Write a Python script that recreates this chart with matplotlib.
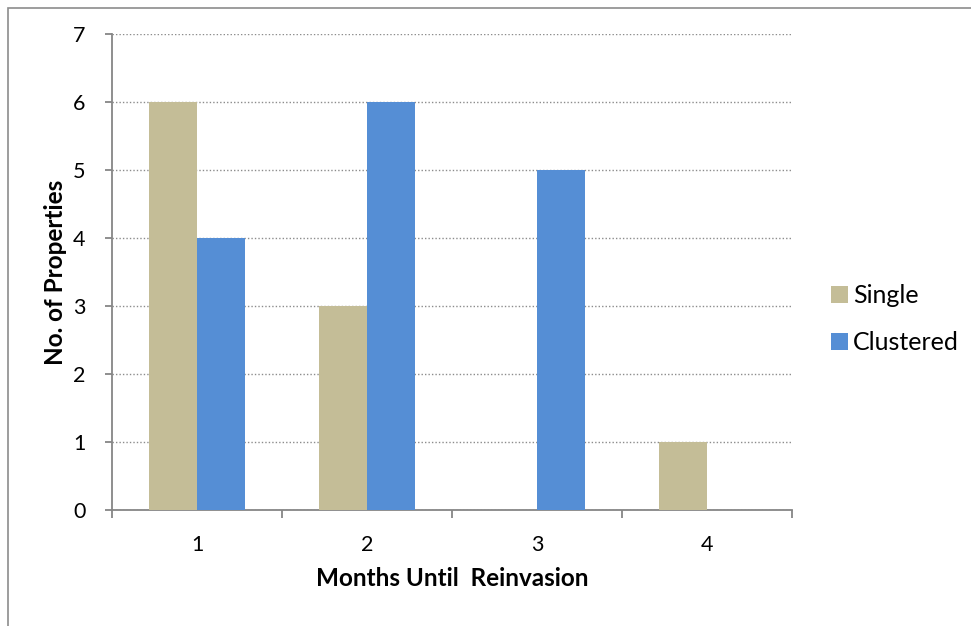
import matplotlib
matplotlib.use("Agg")
import matplotlib.pyplot as plt
import numpy as np
from matplotlib.patches import Rectangle

plt.rcParams['font.family'] = ['Lato', 'DejaVu Sans']

categories = ["1", "2", "3", "4"]
single = [6, 3, 0, 1]
clustered = [4, 6, 5, 0]
yticks = [0, 1, 2, 3, 4, 5, 6, 7]

W, H = 971, 626
fig = plt.figure(figsize=(W/100, H/100), dpi=100)
ax = fig.add_axes([112/W, 1-510/H, (792-112)/W, (510-34)/H])

x = np.arange(1, len(categories)+1)
bw = 0.285
ax.bar(x - bw/2, single, width=bw, color="#C4BD97", label="Single", zorder=3)
ax.bar(x + bw/2, clustered, width=bw, color="#558ED5", label="Clustered", zorder=3)

ax.set_xlim(0.5, 4.5)
ax.set_ylim(0, 7)
ax.set_yticks(yticks)
ax.set_xticks(x)
ax.set_xticklabels(categories)
ax.set_xticks(np.arange(0.5, 4.6, 1), minor=True)
ax.tick_params(axis='x', which='major', length=0, pad=18, labelsize=15.5)
ax.tick_params(axis='x', which='minor', length=6, color="#868686", width=1.3)
ax.tick_params(axis='y', length=5, color="#868686", width=1.3, pad=14, labelsize=15.5)

ax.grid(axis='y', color="#8c8c8c", linestyle=(0, (1, 1.5)), linewidth=1, zorder=0)
for s in ['top', 'right']:
    ax.spines[s].set_visible(False)
for s in ['left', 'bottom']:
    ax.spines[s].set_color("#868686")
    ax.spines[s].set_linewidth(1.3)

ax.set_xlabel("Months Until  Reinvasion", fontsize=17.5, fontweight='bold', labelpad=9)
ax.set_ylabel("No. of Properties", fontsize=17.5, fontweight='bold')
ax.yaxis.set_label_coords(-0.066, 0.5)

leg = ax.legend(loc='center left', bbox_to_anchor=(808/W, 1-319/H),
                bbox_transform=fig.transFigure, frameon=False,
                fontsize=18, handlelength=0.68, handleheight=0.68, handletextpad=0.22,
                labelspacing=0.95)

fig.patches.append(Rectangle((8/W, -0.1), 1.2, 1-8/H+0.1, transform=fig.transFigure,
                             fill=False, edgecolor="#8c8c8c", linewidth=1.2))

fig.savefig("out.png", dpi=100)
